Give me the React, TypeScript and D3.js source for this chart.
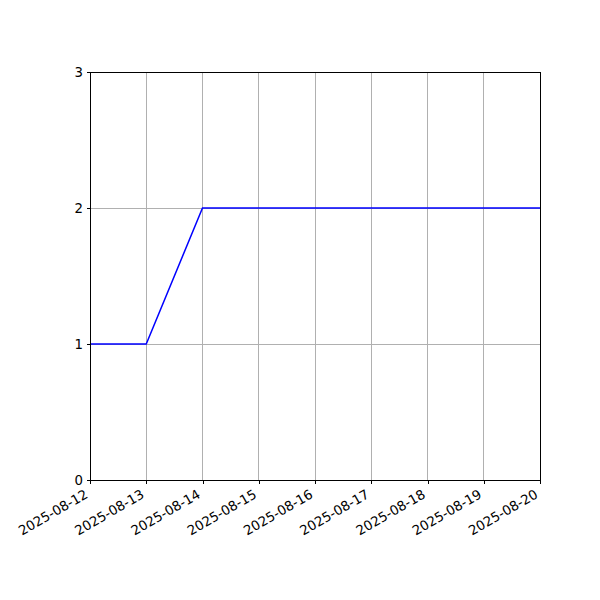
import React, { useEffect, useRef } from 'react';
import * as d3 from 'd3';

const dates = [
  '2025-08-12', '2025-08-13', '2025-08-14', '2025-08-15', '2025-08-16',
  '2025-08-17', '2025-08-18', '2025-08-19', '2025-08-20',
];
const values = [1, 1, 2, 2, 2, 2, 2, 2, 2];
const yTicks = [0, 1, 2, 3];

const width = 600;
const height = 600;
const margin = { top: 72, right: 60, bottom: 120, left: 90 };

const App: React.FC = () => {
  const svgRef = useRef<SVGSVGElement>(null);

  useEffect(() => {
    if (!svgRef.current) return;
    const svg = d3.select(svgRef.current);
    svg.selectAll('*').remove();

    const innerWidth = width - margin.left - margin.right;
    const innerHeight = height - margin.top - margin.bottom;
    const parse = d3.utcParse('%Y-%m-%d');
    const fmt = d3.utcFormat('%Y-%m-%d');
    const data = dates.map((d, i) => ({ date: parse(d) as Date, value: values[i] }));

    const g = svg.append('g').attr('transform', `translate(${margin.left},${margin.top})`);

    const x = d3.scaleUtc()
      .domain(d3.extent(data, d => d.date) as [Date, Date])
      .range([0, innerWidth]);
    const y = d3.scaleLinear().domain([0, 3]).range([innerHeight, 0]);

    // grid
    g.append('g')
      .selectAll('line')
      .data(data)
      .join('line')
      .attr('x1', d => x(d.date))
      .attr('x2', d => x(d.date))
      .attr('y1', 0)
      .attr('y2', innerHeight)
      .attr('stroke', '#b0b0b0')
      .attr('stroke-width', 1)
      .attr('shape-rendering', 'crispEdges');
    g.append('g')
      .selectAll('line')
      .data(yTicks)
      .join('line')
      .attr('x1', 0)
      .attr('x2', innerWidth)
      .attr('y1', d => y(d))
      .attr('y2', d => y(d))
      .attr('stroke', '#b0b0b0')
      .attr('stroke-width', 1)
      .attr('shape-rendering', 'crispEdges');

    // line
    const line = d3.line<{ date: Date; value: number }>()
      .x(d => x(d.date))
      .y(d => y(d.value));
    g.append('path')
      .datum(data)
      .attr('fill', 'none')
      .attr('stroke', '#0000ff')
      .attr('stroke-width', 1.5)
      .attr('d', line);

    // frame
    g.append('rect')
      .attr('width', innerWidth)
      .attr('height', innerHeight)
      .attr('fill', 'none')
      .attr('stroke', '#000')
      .attr('stroke-width', 1)
      .attr('shape-rendering', 'crispEdges');

    // axes
    const xAxis = g.append('g')
      .attr('transform', `translate(0,${innerHeight})`)
      .call(d3.axisBottom(x).tickValues(data.map(d => d.date)).tickFormat(d => fmt(d as Date)).tickSize(3.5).tickPadding(3.5));
    xAxis.select('.domain').remove();
    xAxis.selectAll('line').attr('stroke-width', 1).attr('shape-rendering', 'crispEdges');
    xAxis.selectAll('text')
      .attr('font-family', 'DejaVu Sans')
      .attr('font-size', 13.3)
      .attr('fill', '#000')
      .attr('text-anchor', 'end')
      .attr('x', 0)
      .attr('y', 0)
      .attr('dy', 0)
      .attr('transform', 'translate(-1.6,17) rotate(-30)');

    const yAxis = g.append('g')
      .call(d3.axisLeft(y).tickValues(yTicks).tickFormat(d3.format('d')).tickSize(3.5).tickPadding(3.5));
    yAxis.select('.domain').remove();
    yAxis.selectAll('line').attr('stroke-width', 1).attr('shape-rendering', 'crispEdges');
    yAxis.selectAll('text')
      .attr('font-family', 'DejaVu Sans')
      .attr('font-size', 13.3)
      .attr('fill', '#000');
  }, []);

  return (
    <div style={{ position: 'absolute', top: 0, left: 0, background: '#fff' }}>
      <svg ref={svgRef} width={width} height={height} style={{ display: 'block' }} />
    </div>
  );
};

export default App;
